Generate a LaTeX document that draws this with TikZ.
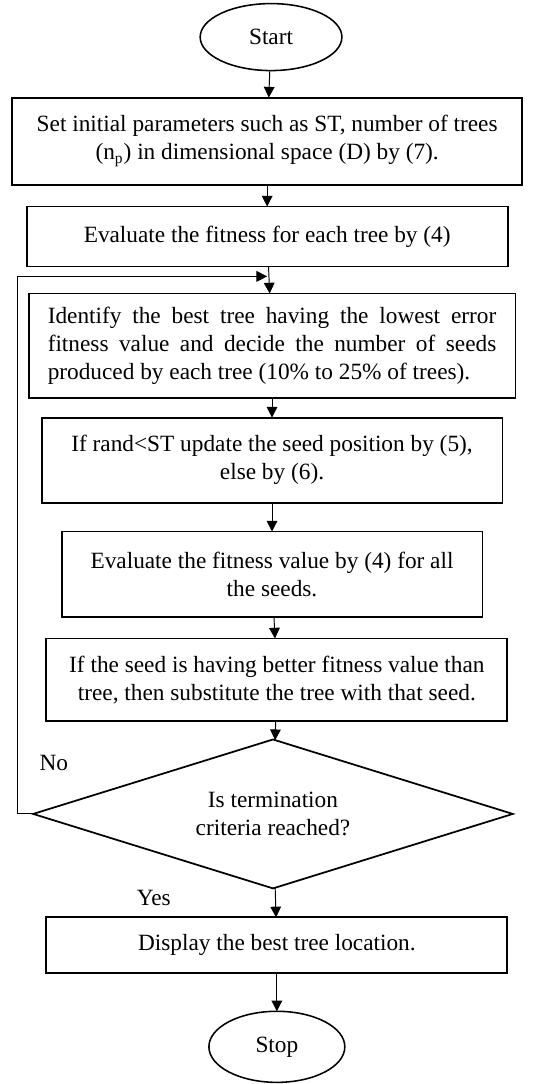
\documentclass[tikz,border=0pt,12pt]{standalone}
\usepackage{fontspec}
\setmainfont{Liberation Serif}
\usepackage{tikz}
\usetikzlibrary{positioning, arrows.meta, shapes.geometric}

\begin{document}
\begin{tikzpicture}[
    node distance=13.9pt,
    term/.style={ellipse, draw, line width=0.8pt, outer sep=0pt, minimum width=73pt, minimum height=34.5pt, inner sep=0pt},
    proc/.style={rectangle, draw, line width=1pt, outer sep=0pt, align=center, inner sep=0pt},
    dec/.style={diamond, draw, line width=0.9pt, outer sep=0pt, aspect=3.2, minimum width=247pt, minimum height=76.7pt, inner sep=0pt, align=center},
    lbl/.style={inner sep=0pt},
    arr/.style={-{Triangle[length=5.5pt, width=5.5pt]}, line width=0.5pt},
]
\useasboundingbox (-139.6pt,19.1pt) rectangle (146.8pt,-539.2pt);

% Start and initialisation
\node[term] (start) at (0,0) {Start};
\node[proc, minimum width=262.6pt, minimum height=44.8pt, below=13.9pt of start, xshift=-2pt] (init) {Set initial parameters such as ST, number of trees\\(n\textsubscript{p}) in dimensional space (D) by (7).};
\node[proc, minimum width=247.7pt, minimum height=30.9pt, below=11.3pt of init] (eval) {Evaluate the fitness for each tree by (4)};

% Main loop
\node[proc, minimum width=250.8pt, minimum height=53.6pt, text width=231pt, align=justify, below=13.9pt of eval, xshift=2.5pt] (best) {Identify the best tree having the lowest error\linebreak fitness value and decide the number of seeds\linebreak produced by each tree (10\% to 25\% of trees).};
\coordinate[below=5.1pt of eval] (join);
\node[proc, minimum width=237.4pt, minimum height=43.8pt, below=10.3pt of best] (upd) {If rand<ST update the seed position by (5),\\else by (6).};
\node[proc, minimum width=216.8pt, minimum height=43.8pt, below=14.9pt of upd] (seval) {Evaluate the fitness value by (4) for all\\the seeds.};
\node[proc, minimum width=237.4pt, minimum height=42.7pt, below=11.3pt of seval, xshift=2.5pt] (subst) {If the seed is having better fitness value than\\tree, then substitute the tree with that seed.};
\node[dec, below=9.3pt of subst, xshift=-2pt] (check) {Is termination\\criteria reached?};

% End
\node[proc, minimum width=237.4pt, minimum height=28.8pt, below=14.9pt of check, xshift=2pt] (disp) {Display the best tree location.};
\node[term, minimum width=70pt, minimum height=36.6pt, below=19.6pt of disp] (stop) {Stop};

% Branch labels
\node[lbl, above right=22.1pt and 3.1pt of check.west] (no) {No};
\node[lbl, below left=1pt and 52.5pt of check.south] (yes) {Yes};

% Connectors
\draw[arr] (start) -- (init);
\draw[arr] (init) -- (eval);
\draw[arr] (eval) -- (best);
\draw[arr] (best) -- (upd);
\draw[arr] (upd) -- (seval);
\draw[arr] (seval) -- (subst);
\draw[arr] (subst) -- (check);
\draw[arr] (check) -- (disp);
\draw[arr] (disp) -- (stop);
\draw[arr] (check.west) -- ++(-8.2pt,0) |- (join);

\end{tikzpicture}
\end{document}
